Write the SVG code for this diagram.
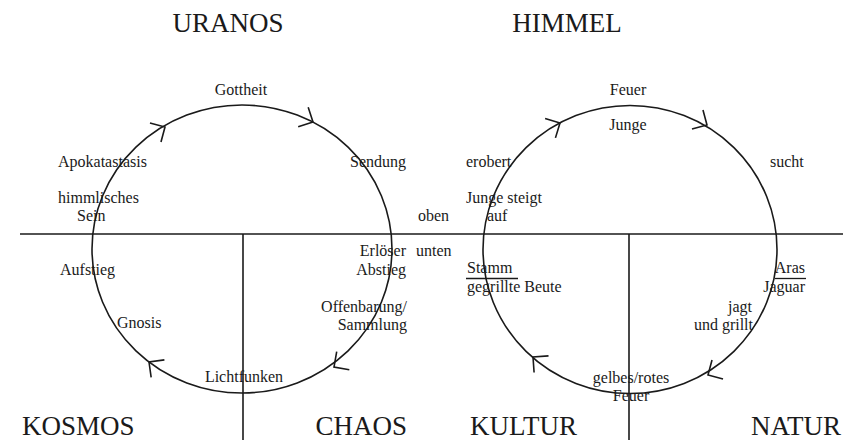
<svg xmlns="http://www.w3.org/2000/svg" width="852" height="442" viewBox="0 0 852 442">
<style>
.ln{fill:none;stroke:#1a1a1a;stroke-width:1.6}
.t{font-family:"Liberation Serif","Times New Roman",serif;font-size:16px;fill:#1a1a1a}
.big{font-family:"Liberation Serif","Times New Roman",serif;font-size:27px;fill:#1a1a1a}
.e{text-anchor:end}
.m{text-anchor:middle}
</style>
<defs>
<path id="chev" d="M -11 -11 L 0 0 L -11 11" fill="none" stroke="#1a1a1a" stroke-width="1.6"/>
</defs>
<rect width="852" height="442" fill="#ffffff"/>
<g id="connectors">
<line class="ln" x1="20" y1="234" x2="843" y2="234"/>
<line class="ln" x1="243" y1="234" x2="243" y2="440"/>
<line class="ln" x1="629" y1="234" x2="629" y2="440"/>
<ellipse id="cycle-left" class="ln" cx="242" cy="249" rx="150" ry="144"/>
<ellipse id="cycle-right" class="ln" cx="630" cy="249.5" rx="147" ry="144"/>
<use href="#chev" transform="translate(165,127) rotate(-30)"/>
<use href="#chev" transform="translate(313,122) rotate(27)"/>
<use href="#chev" transform="translate(334,367) rotate(145)"/>
<use href="#chev" transform="translate(149,362) rotate(-143)"/>
<use href="#chev" transform="translate(560,123) rotate(-28)"/>
<use href="#chev" transform="translate(707,125) rotate(30)"/>
<use href="#chev" transform="translate(708,375) rotate(150)"/>
<use href="#chev" transform="translate(533,357) rotate(-139)"/>
</g>
<g id="quadrant-labels">
<text class="big m" x="228" y="32">URANOS</text>
<text class="big m" x="567" y="32">HIMMEL</text>
<text class="big" x="22" y="435">KOSMOS</text>
<text class="big e" x="407" y="435">CHAOS</text>
<text class="big" x="470" y="435">KULTUR</text>
<text class="big e" x="841" y="435">NATUR</text>
</g>
<g id="left-cycle-labels">
<text class="t m" x="241" y="95">Gottheit</text>
<text class="t" x="58" y="167">Apokatastasis</text>
<text class="t e" x="406" y="167">Sendung</text>
<text class="t" x="58" y="203">himmlisches</text>
<text class="t" x="77" y="221">Sein</text>
<text class="t e" x="406" y="256">Erlöser</text>
<text class="t e" x="406" y="275">Abstieg</text>
<text class="t" x="60" y="275">Aufstieg</text>
<text class="t e" x="407" y="312">Offenbarung/</text>
<text class="t e" x="407" y="330">Sammlung</text>
<text class="t" x="117" y="328">Gnosis</text>
<text class="t m" x="244" y="382">Lichtfunken</text>
</g>
<g id="axis-labels">
<text class="t" x="418" y="221">oben</text>
<text class="t" x="416" y="256">unten</text>
</g>
<g id="right-cycle-labels">
<text class="t m" x="628" y="95">Feuer</text>
<text class="t m" x="628" y="130">Junge</text>
<text class="t" x="466" y="167">erobert</text>
<text class="t" x="770" y="167">sucht</text>
<text class="t" x="466" y="203">Junge steigt</text>
<text class="t" x="487" y="221">auf</text>
<text class="t" x="467" y="273">Stamm</text>
<line x1="466" y1="278.5" x2="518" y2="278.5" stroke="#1a1a1a" stroke-width="1.3"/>
<text class="t" x="467" y="292">gegrillte Beute</text>
<text class="t e" x="805" y="273">Aras</text>
<line x1="775" y1="278.5" x2="806" y2="278.5" stroke="#1a1a1a" stroke-width="1.3"/>
<text class="t e" x="805" y="292">Jaguar</text>
<text class="t e" x="752" y="312">jagt</text>
<text class="t e" x="753" y="330">und grillt</text>
<text class="t m" x="631" y="383">gelbes/rotes</text>
<text class="t m" x="631" y="401">Feuer</text>
</g>
</svg>
